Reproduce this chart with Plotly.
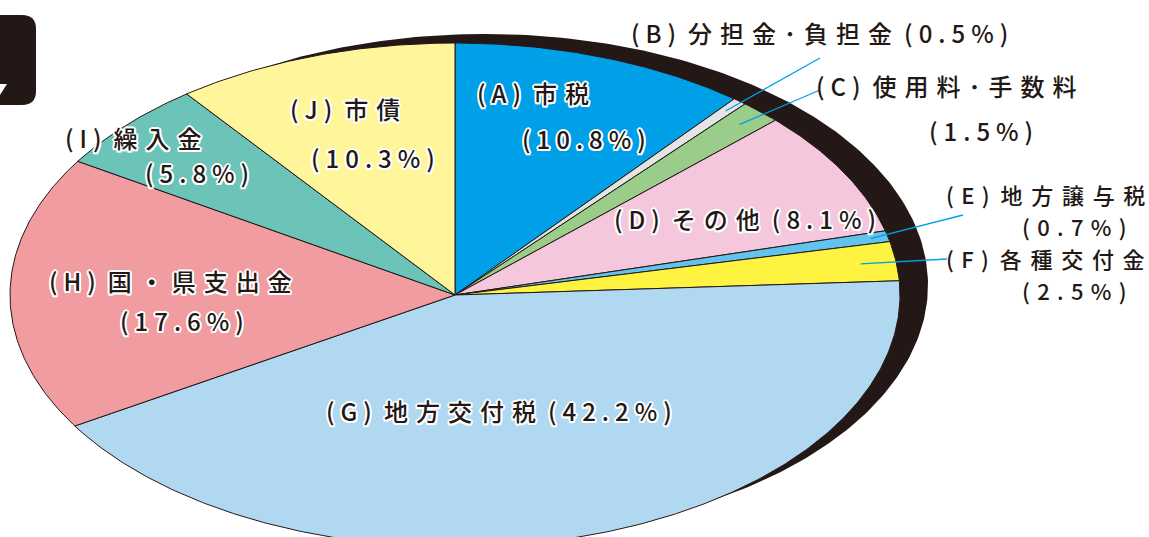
import numpy as np
import plotly.graph_objects as go

# ---------------- data ----------------
keys = ["A", "B", "C", "D", "E", "F", "G", "H", "I", "J"]
names = ["市税", "分担金・負担金", "使用料・手数料", "その他", "地方譲与税",
         "各種交付金", "地方交付税", "国・県支出金", "繰入金", "市債"]
values = [10.8, 0.5, 1.5, 8.1, 0.7, 2.5, 42.2, 17.6, 5.8, 10.3]
colors = ["#00a0e9", "#e3e4e4", "#9acc8a", "#f5c7dc", "#62c3ee",
          "#fff342", "#b1d8f1", "#f09ca1", "#6cc4b9", "#fff59b"]

# ---------------- geometry / style ----------------
W, H = 1149, 537
CX, CY, RX, RY = 455, 295, 445, 252   # pixel centre / radii of the pie ellipse
INK = "#231815"
LEADER = "#00a0e9"
FONT = "Noto Sans CJK JP"
GAP = "\u2002"


def px2data(px, py):
    return (px - CX) / RX, (CY - py) / RY


def is_cjk(ch):
    return ord(ch) >= 0x2E80


def track(s, wide="\u2004", narrow="\u2005"):
    out = s[0]
    for a, b in zip(s[:-1], s[1:]):
        if a == " ":
            out += b
            continue
        if b == " ":
            out += GAP
            continue
        out += (wide if (is_cjk(a) or is_cjk(b)) else narrow) + b
    return out


fig = go.Figure()

# black shadow ellipse behind the pie
t = np.linspace(0, 2 * np.pi, 400)
sx = (485 - CX) / RX + (443 / RX) * np.sin(t)
sy = (CY - 285) / RY + (251 / RY) * np.cos(t)
fig.add_trace(go.Scatter(x=sx, y=sy, mode="lines", fill="toself",
                         fillcolor=INK, line=dict(color=INK, width=0),
                         hoverinfo="skip", showlegend=False))

# slices, clockwise from 12 o'clock
total = sum(values)
cum = 0.0
mids = []
for k, v, c in zip(keys, values, colors):
    a0 = cum / total * 2 * np.pi
    a1 = (cum + v) / total * 2 * np.pi
    mids.append((a0 + a1) / 2)
    n = max(4, int(np.degrees(a1 - a0) * 2))
    th = np.linspace(a0, a1, n)
    xs = np.concatenate([[0], np.sin(th), [0]])
    ys = np.concatenate([[0], np.cos(th), [0]])
    fig.add_trace(go.Scatter(x=xs, y=ys, mode="lines", fill="toself",
                             fillcolor=c, line=dict(color=INK, width=1),
                             hoverinfo="skip", showlegend=False, name=k))
    cum += v

# ---------------- labels ----------------
outline = ("2px 0 0 #fff, -2px 0 0 #fff, 0 2px 0 #fff, 0 -2px 0 #fff, "
           "1.5px 1.5px 0 #fff, -1.5px -1.5px 0 #fff, 1.5px -1.5px 0 #fff, -1.5px 1.5px 0 #fff")

vals = dict(zip(keys, values))
nm = dict(zip(keys, names))


def head(k, narrow_dot=False):
    n = nm[k].replace("・", "･") if narrow_dot else nm[k]
    return f"({k}) {n}"


def pct(k):
    return f"({vals[k]}%)"


def font(ol, size=24):
    f = dict(family=FONT, size=size, color=INK, weight=500)
    if ol:
        f["shadow"] = outline
    return f


# single-line annotations: (text, px, py, outlined)
label_lines = [
    (head("A"), 533, 92, True), (pct("A"), 584, 138, True),
    (head("B", True) + " " + pct("B"), 819, 32, False),
    (head("C", True), 946, 85, False), (pct("C"), 981, 130, False),
    (head("D") + " " + pct("D"), 745, 218, True),
    (head("G") + " " + pct("G"), 499, 410, True),
    (head("H"), 170, 280, True), (pct("H"), 182, 320, True),
    (head("I"), 133, 137, True), (pct("I"), 197, 172, True),
    (head("J"), 345, 108, True), (pct("J"), 373, 157, True),
]

for txt, px, py, ol in label_lines:
    x, y = px2data(px, py)
    fig.add_annotation(x=x, y=y, text=track(txt), showarrow=False,
                       font=font(ol), xanchor="center", yanchor="middle")

# E and F: right-aligned stacked lines (slightly smaller, wider tracking)
ef_lines = [(head("E"), 1146, 194), (pct("E"), 1128, 226),
            (head("F"), 1146, 258), (pct("F"), 1128, 290)]
for txt, px, py in ef_lines:
    x, y = px2data(px, py)
    fig.add_annotation(x=x, y=y, text=track(txt, "\u2004\u200a", "\u2004"),
                       showarrow=False, font=font(False, 22),
                       xanchor="right", yanchor="middle", borderpad=0)

# leader lines: start inside slice (mid angle), end near label
leaders = {"B": (0.95, 820, 58), "C": (0.93, 820, 90),
           "E": (0.96, 963, 215), "F": (0.92, 947, 259)}
for k, (r, ex, ey) in leaders.items():
    a = mids[keys.index(k)]
    x0, y0 = r * np.sin(a), r * np.cos(a)
    x1, y1 = px2data(ex, ey)
    fig.add_shape(type="line", x0=x0, y0=y0, x1=x1, y1=y1,
                  line=dict(color=LEADER, width=1.3), layer="above")


# decorative icon at top-left corner (paper coords from pixels)
def pp(px, py):
    return f"{px / W:.5f},{1 - py / H:.5f}"


icon = (f"M {pp(-20, 15)} L {pp(22, 15)} Q {pp(36, 15)} {pp(36, 29)} "
        f"L {pp(36, 91)} Q {pp(36, 105)} {pp(22, 105)} L {pp(-20, 105)} Z")
fig.add_shape(type="path", path=icon, xref="paper", yref="paper",
              fillcolor=INK, line=dict(width=0))
notch = f"M {pp(0, 84)} L {pp(7, 84)} L {pp(0, 95)} Z"
fig.add_shape(type="path", path=notch, xref="paper", yref="paper",
              fillcolor="#ffffff", line=dict(width=0))

xr = [px2data(0, 0)[0], px2data(W, 0)[0]]
yr = [px2data(0, H)[1], px2data(0, 0)[1]]
fig.update_layout(
    width=W, height=H, margin=dict(l=0, r=0, t=0, b=0),
    paper_bgcolor="#ffffff", plot_bgcolor="#ffffff",
    xaxis=dict(range=xr, visible=False, fixedrange=True),
    yaxis=dict(range=yr, visible=False, fixedrange=True),
    showlegend=False,
)

fig.write_html("out.html", config={"displayModeBar": False},
               post_script="document.body.style.margin='0';document.body.style.overflow='hidden';")
